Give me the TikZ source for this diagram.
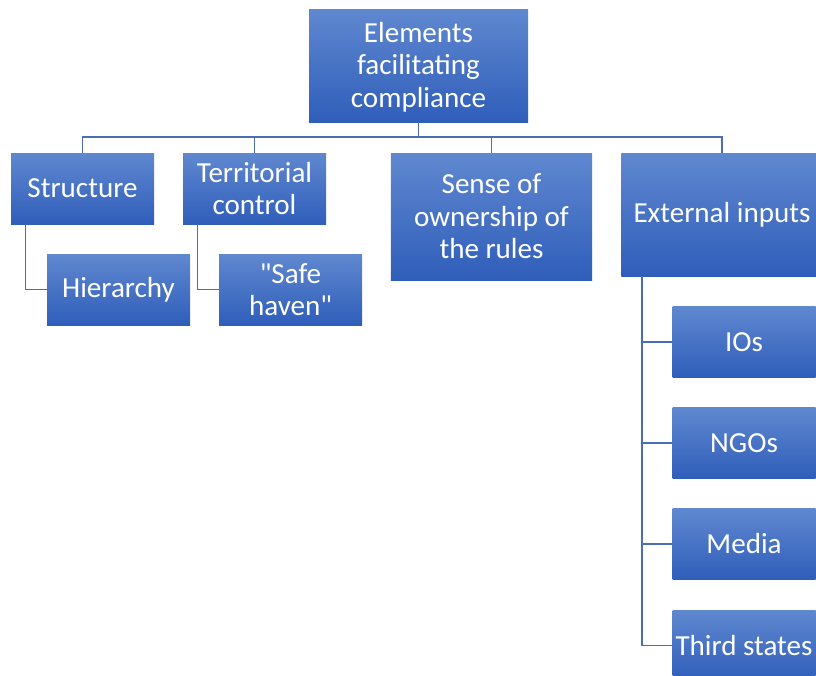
\documentclass[tikz,border=0pt]{standalone}
\usepackage{fontspec}
\setmainfont{Carlito}[Ligatures=TeXOff]
\definecolor{boxtop}{HTML}{6088D0}
\definecolor{boxbot}{HTML}{2F5EBA}
\definecolor{wire}{HTML}{4A6DB5}
\tikzset{
  box/.style={rectangle, inner sep=0pt, text=white, top color=boxtop, bottom color=boxbot,
    align=center, font=\fontsize{21.8}{24.4}\selectfont},
  small/.style={box, minimum width=107.25pt, minimum height=53.25pt},
  wide/.style={box, minimum width=151pt, minimum height=93pt},
  conn/.style={draw=wire, line width=1.1pt}
}
\begin{document}
\begin{tikzpicture}[x=0.75pt,y=-0.75pt]
\useasboundingbox (0,0) rectangle (816,675);
\clip (0,0) rectangle (816,675);
% top level
\node[box, minimum width=164.25pt, minimum height=84.75pt, text depth=1.5pt] (root) at (418.5,65.5) {Elements\\facilitating\\compliance};
% first level
\node[small] (structure) at (82.5,188.5) {Structure};
\node[small] (territory) at (254.5,188.5) {Territorial\\control};
\node[wide, minimum height=95.25pt] (ownership) at (491.5,216.5) {Sense of\\ownership of\\the rules};
\node[wide, minimum height=92.25pt] (external) at (722,214.5) {External inputs};
% second level
\node[small] (hierarchy) at (118.5,289.5) {Hierarchy};
\node[small] (haven) at (290.5,289.5) {"Safe\\haven"};
\node[small] (ios) at (744,342) {IOs};
\node[small] (ngos) at (744,443) {NGOs};
\node[small] (media) at (744,544) {Media};
\node[small] (third) at (744,645.5) {Third states};
% bus from the root
\coordinate (bus) at (0,137);
\foreach \n in {structure,territory,ownership,external}
  \draw[conn] (root.south) |- (bus -| \n.north) -- (\n.north);
% side branches
\draw[conn] ([xshift=11.25pt]structure.south west) |- (hierarchy.west);
\draw[conn] ([xshift=11.25pt]territory.south west) |- (haven.west);
\foreach \n in {ios,ngos,media,third}
  \draw[conn] ([xshift=15.75pt]external.south west) |- (\n.west);
\end{tikzpicture}
\end{document}
